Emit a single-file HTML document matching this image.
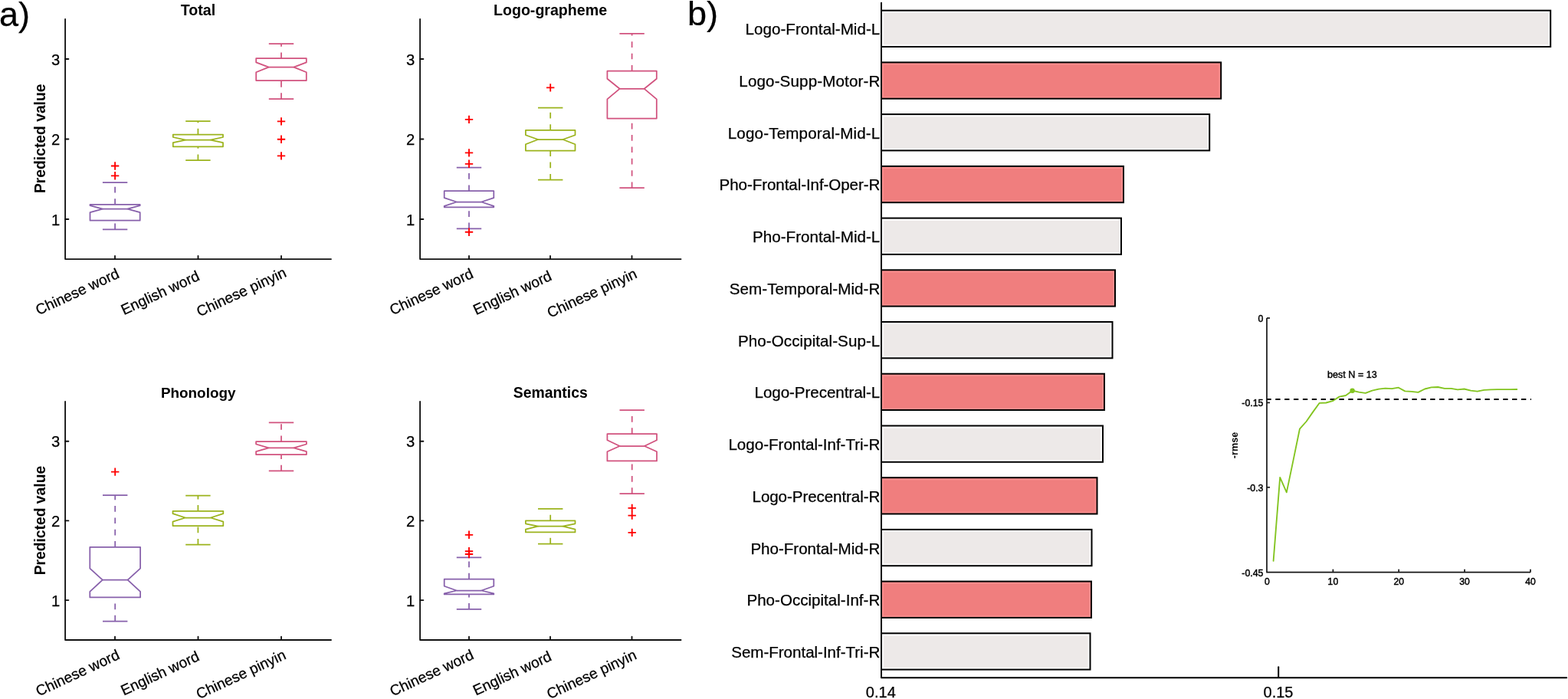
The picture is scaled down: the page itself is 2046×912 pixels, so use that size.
<!DOCTYPE html>
<html lang="en">
<head>
<meta charset="utf-8">
<title>Figure</title>
<style>
html,body{margin:0;padding:0;background:#fff;}
body{width:2046px;height:912px;overflow:hidden;}
svg{display:block;font-family:"Liberation Sans",sans-serif;fill:#000;}
svg text{fill:#000;}
</style>
</head>
<body>
<svg width="2046" height="912" viewBox="0 0 2046 912">
<rect x="0" y="0" width="2046" height="912" fill="#fff"/>
<path d="M85.1,24.9 V338.1 H432" fill="none" stroke="#111" stroke-width="1.85" stroke-linecap="round" stroke-linejoin="round"/>
<line x1="85.1" y1="77.0" x2="89.4" y2="77.0" stroke="#111" stroke-width="1.85" stroke-linecap="round"/>
<text transform="translate(78.20,84.60)" text-anchor="end" font-size="20.2" stroke="#000" stroke-width="0.25" fill="#000" style="fill:#000">3</text>
<line x1="85.1" y1="181.5" x2="89.4" y2="181.5" stroke="#111" stroke-width="1.85" stroke-linecap="round"/>
<text transform="translate(78.20,189.10)" text-anchor="end" font-size="20.2" stroke="#000" stroke-width="0.25" fill="#000" style="fill:#000">2</text>
<line x1="85.1" y1="286.0" x2="89.4" y2="286.0" stroke="#111" stroke-width="1.85" stroke-linecap="round"/>
<text transform="translate(78.20,293.60)" text-anchor="end" font-size="20.2" stroke="#000" stroke-width="0.25" fill="#000" style="fill:#000">1</text>
<line x1="150" y1="338.1" x2="150" y2="333.8" stroke="#111" stroke-width="1.85" stroke-linecap="round"/>
<text transform="translate(157.00,361.60) rotate(-25)" text-anchor="end" font-size="19.3" stroke="#000" stroke-width="0.25" fill="#000" style="fill:#000">Chinese word</text>
<line x1="258.5" y1="338.1" x2="258.5" y2="333.8" stroke="#111" stroke-width="1.85" stroke-linecap="round"/>
<text transform="translate(261.70,364.60) rotate(-25)" text-anchor="end" font-size="19.3" stroke="#000" stroke-width="0.25" fill="#000" style="fill:#000">English word</text>
<line x1="367" y1="338.1" x2="367" y2="333.8" stroke="#111" stroke-width="1.85" stroke-linecap="round"/>
<text transform="translate(375.00,360.10) rotate(-25)" text-anchor="end" font-size="19.3" stroke="#000" stroke-width="0.25" fill="#000" style="fill:#000">Chinese pinyin</text>
<text transform="translate(258.50,19.50)" text-anchor="middle" font-size="19.6" font-weight="bold" fill="#000" style="fill:#000">Total</text>
<text transform="translate(58.90,180.80) rotate(-90)" text-anchor="middle" font-size="19.3" font-weight="bold" fill="#000" style="fill:#000">Predicted value</text>
<path d="M117.5,287.7 L117.5,277.2 L133.8,272.7 L117.5,268.2 L117.5,266.9 L182.7,266.9 L182.7,268.2 L166.4,272.7 L182.7,277.2 L182.7,287.7 Z" fill="none" stroke="#8760AB" stroke-width="1.75" stroke-linejoin="round"/>
<line x1="133.8" y1="272.7" x2="166.4" y2="272.7" stroke="#8760AB" stroke-width="1.75"/>
<line x1="150.1" y1="299.3" x2="150.1" y2="287.7" stroke="#8760AB" stroke-width="1.75" stroke-dasharray="7.7 7.66"/>
<line x1="150.1" y1="266.9" x2="150.1" y2="238.1" stroke="#8760AB" stroke-width="1.75" stroke-dasharray="7.7 7.66"/>
<line x1="133.9" y1="299.3" x2="166.3" y2="299.3" stroke="#8760AB" stroke-width="1.75"/>
<line x1="133.9" y1="238.1" x2="166.3" y2="238.1" stroke="#8760AB" stroke-width="1.75"/>
<path d="M144.9,216.5 H155.3 M150.1,211.3 V221.7" stroke="#FF0000" stroke-width="1.85" fill="none"/>
<path d="M144.9,229.3 H155.3 M150.1,224.1 V234.5" stroke="#FF0000" stroke-width="1.85" fill="none"/>
<path d="M225.8,191.3 L225.8,186.1 L242.1,182.6 L225.8,179.0 L225.8,175.5 L291.0,175.5 L291.0,179.0 L274.7,182.6 L291.0,186.1 L291.0,191.3 Z" fill="none" stroke="#9BB31C" stroke-width="1.75" stroke-linejoin="round"/>
<line x1="242.1" y1="182.6" x2="274.7" y2="182.6" stroke="#9BB31C" stroke-width="1.75"/>
<line x1="258.4" y1="209.1" x2="258.4" y2="191.3" stroke="#9BB31C" stroke-width="1.75" stroke-dasharray="7.7 7.66"/>
<line x1="258.4" y1="175.5" x2="258.4" y2="158.0" stroke="#9BB31C" stroke-width="1.75" stroke-dasharray="7.7 7.66"/>
<line x1="242.2" y1="209.1" x2="274.6" y2="209.1" stroke="#9BB31C" stroke-width="1.75"/>
<line x1="242.2" y1="158.0" x2="274.6" y2="158.0" stroke="#9BB31C" stroke-width="1.75"/>
<path d="M334.2,105.1 L334.2,94.3 L350.6,87.6 L334.2,81.4 L334.2,76.1 L399.8,76.1 L399.8,81.4 L383.4,87.6 L399.8,94.3 L399.8,105.1 Z" fill="none" stroke="#D1527E" stroke-width="1.75" stroke-linejoin="round"/>
<line x1="350.6" y1="87.6" x2="383.4" y2="87.6" stroke="#D1527E" stroke-width="1.75"/>
<line x1="367.0" y1="129.0" x2="367.0" y2="105.1" stroke="#D1527E" stroke-width="1.75" stroke-dasharray="7.7 7.66"/>
<line x1="367.0" y1="76.1" x2="367.0" y2="57.0" stroke="#D1527E" stroke-width="1.75" stroke-dasharray="7.7 7.66"/>
<line x1="350.8" y1="129.0" x2="383.2" y2="129.0" stroke="#D1527E" stroke-width="1.75"/>
<line x1="350.8" y1="57.0" x2="383.2" y2="57.0" stroke="#D1527E" stroke-width="1.75"/>
<path d="M361.8,158.4 H372.2 M367.0,153.2 V163.6" stroke="#FF0000" stroke-width="1.85" fill="none"/>
<path d="M361.8,181.7 H372.2 M367.0,176.5 V186.9" stroke="#FF0000" stroke-width="1.85" fill="none"/>
<path d="M361.8,203.4 H372.2 M367.0,198.2 V208.6" stroke="#FF0000" stroke-width="1.85" fill="none"/>
<path d="M548.1,24.9 V338.1 H888.5" fill="none" stroke="#111" stroke-width="1.85" stroke-linecap="round" stroke-linejoin="round"/>
<line x1="548.1" y1="77.0" x2="552.4" y2="77.0" stroke="#111" stroke-width="1.85" stroke-linecap="round"/>
<text transform="translate(541.20,84.60)" text-anchor="end" font-size="20.2" stroke="#000" stroke-width="0.25" fill="#000" style="fill:#000">3</text>
<line x1="548.1" y1="181.5" x2="552.4" y2="181.5" stroke="#111" stroke-width="1.85" stroke-linecap="round"/>
<text transform="translate(541.20,189.10)" text-anchor="end" font-size="20.2" stroke="#000" stroke-width="0.25" fill="#000" style="fill:#000">2</text>
<line x1="548.1" y1="286.0" x2="552.4" y2="286.0" stroke="#111" stroke-width="1.85" stroke-linecap="round"/>
<text transform="translate(541.20,293.60)" text-anchor="end" font-size="20.2" stroke="#000" stroke-width="0.25" fill="#000" style="fill:#000">1</text>
<line x1="612" y1="338.1" x2="612" y2="333.8" stroke="#111" stroke-width="1.85" stroke-linecap="round"/>
<text transform="translate(619.00,361.60) rotate(-25)" text-anchor="end" font-size="19.3" stroke="#000" stroke-width="0.25" fill="#000" style="fill:#000">Chinese word</text>
<line x1="718" y1="338.1" x2="718" y2="333.8" stroke="#111" stroke-width="1.85" stroke-linecap="round"/>
<text transform="translate(721.20,364.60) rotate(-25)" text-anchor="end" font-size="19.3" stroke="#000" stroke-width="0.25" fill="#000" style="fill:#000">English word</text>
<line x1="824.5" y1="338.1" x2="824.5" y2="333.8" stroke="#111" stroke-width="1.85" stroke-linecap="round"/>
<text transform="translate(832.50,361.60) rotate(-25)" text-anchor="end" font-size="19.3" stroke="#000" stroke-width="0.25" fill="#000" style="fill:#000">Chinese pinyin</text>
<text transform="translate(718.00,19.50)" text-anchor="middle" font-size="19.6" font-weight="bold" fill="#000" style="fill:#000">Logo-grapheme</text>
<path d="M579.7,270.3 L579.7,268.9 L595.9,263.5 L579.7,258.2 L579.7,249.1 L644.3,249.1 L644.3,258.2 L628.1,263.5 L644.3,268.9 L644.3,270.3 Z" fill="none" stroke="#8760AB" stroke-width="1.75" stroke-linejoin="round"/>
<line x1="595.9" y1="263.5" x2="628.1" y2="263.5" stroke="#8760AB" stroke-width="1.75"/>
<line x1="612.0" y1="298.3" x2="612.0" y2="270.3" stroke="#8760AB" stroke-width="1.75" stroke-dasharray="7.7 7.66"/>
<line x1="612.0" y1="249.1" x2="612.0" y2="218.7" stroke="#8760AB" stroke-width="1.75" stroke-dasharray="7.7 7.66"/>
<line x1="595.8" y1="298.3" x2="628.2" y2="298.3" stroke="#8760AB" stroke-width="1.75"/>
<line x1="595.8" y1="218.7" x2="628.2" y2="218.7" stroke="#8760AB" stroke-width="1.75"/>
<path d="M606.8,155.9 H617.2 M612.0,150.7 V161.1" stroke="#FF0000" stroke-width="1.85" fill="none"/>
<path d="M606.8,199.4 H617.2 M612.0,194.2 V204.6" stroke="#FF0000" stroke-width="1.85" fill="none"/>
<path d="M606.8,213.8 H617.2 M612.0,208.6 V219.0" stroke="#FF0000" stroke-width="1.85" fill="none"/>
<path d="M606.8,302.7 H617.2 M612.0,297.5 V307.9" stroke="#FF0000" stroke-width="1.85" fill="none"/>
<path d="M685.9,196.5 L685.9,188.3 L702.1,182.0 L685.9,176.2 L685.9,169.9 L750.5,169.9 L750.5,176.2 L734.4,182.0 L750.5,188.3 L750.5,196.5 Z" fill="none" stroke="#9BB31C" stroke-width="1.75" stroke-linejoin="round"/>
<line x1="702.1" y1="182.0" x2="734.4" y2="182.0" stroke="#9BB31C" stroke-width="1.75"/>
<line x1="718.2" y1="234.6" x2="718.2" y2="196.5" stroke="#9BB31C" stroke-width="1.75" stroke-dasharray="7.7 7.66"/>
<line x1="718.2" y1="169.9" x2="718.2" y2="140.5" stroke="#9BB31C" stroke-width="1.75" stroke-dasharray="7.7 7.66"/>
<line x1="702.0" y1="234.6" x2="734.4" y2="234.6" stroke="#9BB31C" stroke-width="1.75"/>
<line x1="702.0" y1="140.5" x2="734.4" y2="140.5" stroke="#9BB31C" stroke-width="1.75"/>
<path d="M713.0,114.4 H723.4 M718.2,109.2 V119.6" stroke="#FF0000" stroke-width="1.85" fill="none"/>
<path d="M792.4,154.5 L792.4,129.4 L808.5,115.8 L792.4,102.8 L792.4,92.7 L856.8,92.7 L856.8,102.8 L840.7,115.8 L856.8,129.4 L856.8,154.5 Z" fill="none" stroke="#D1527E" stroke-width="1.75" stroke-linejoin="round"/>
<line x1="808.5" y1="115.8" x2="840.7" y2="115.8" stroke="#D1527E" stroke-width="1.75"/>
<line x1="824.6" y1="245.2" x2="824.6" y2="154.5" stroke="#D1527E" stroke-width="1.75" stroke-dasharray="7.7 7.66"/>
<line x1="824.6" y1="92.7" x2="824.6" y2="43.9" stroke="#D1527E" stroke-width="1.75" stroke-dasharray="7.7 7.66"/>
<line x1="808.4" y1="245.2" x2="840.8" y2="245.2" stroke="#D1527E" stroke-width="1.75"/>
<line x1="808.4" y1="43.9" x2="840.8" y2="43.9" stroke="#D1527E" stroke-width="1.75"/>
<path d="M85.1,523.8 V835 H432" fill="none" stroke="#111" stroke-width="1.85" stroke-linecap="round" stroke-linejoin="round"/>
<line x1="85.1" y1="575.7" x2="89.4" y2="575.7" stroke="#111" stroke-width="1.85" stroke-linecap="round"/>
<text transform="translate(78.20,583.30)" text-anchor="end" font-size="20.2" stroke="#000" stroke-width="0.25" fill="#000" style="fill:#000">3</text>
<line x1="85.1" y1="679.4" x2="89.4" y2="679.4" stroke="#111" stroke-width="1.85" stroke-linecap="round"/>
<text transform="translate(78.20,687.00)" text-anchor="end" font-size="20.2" stroke="#000" stroke-width="0.25" fill="#000" style="fill:#000">2</text>
<line x1="85.1" y1="783.1" x2="89.4" y2="783.1" stroke="#111" stroke-width="1.85" stroke-linecap="round"/>
<text transform="translate(78.20,790.70)" text-anchor="end" font-size="20.2" stroke="#000" stroke-width="0.25" fill="#000" style="fill:#000">1</text>
<line x1="150" y1="835" x2="150" y2="830.7" stroke="#111" stroke-width="1.85" stroke-linecap="round"/>
<text transform="translate(157.40,859.00) rotate(-25)" text-anchor="end" font-size="19.3" stroke="#000" stroke-width="0.25" fill="#000" style="fill:#000">Chinese word</text>
<line x1="258.5" y1="835" x2="258.5" y2="830.7" stroke="#111" stroke-width="1.85" stroke-linecap="round"/>
<text transform="translate(261.50,861.00) rotate(-25)" text-anchor="end" font-size="19.3" stroke="#000" stroke-width="0.25" fill="#000" style="fill:#000">English word</text>
<line x1="367" y1="835" x2="367" y2="830.7" stroke="#111" stroke-width="1.85" stroke-linecap="round"/>
<text transform="translate(374.40,859.00) rotate(-25)" text-anchor="end" font-size="19.3" stroke="#000" stroke-width="0.25" fill="#000" style="fill:#000">Chinese pinyin</text>
<text transform="translate(258.70,518.80)" text-anchor="middle" font-size="18.9" font-weight="bold" fill="#000" style="fill:#000">Phonology</text>
<text transform="translate(58.90,679.10) rotate(-90)" text-anchor="middle" font-size="19.3" font-weight="bold" fill="#000" style="fill:#000">Predicted value</text>
<path d="M117.3,779.4 L117.3,771.8 L133.8,756.7 L117.3,741.6 L117.3,713.8 L183.1,713.8 L183.1,741.6 L166.6,756.7 L183.1,771.8 L183.1,779.4 Z" fill="none" stroke="#8760AB" stroke-width="1.75" stroke-linejoin="round"/>
<line x1="133.8" y1="756.7" x2="166.6" y2="756.7" stroke="#8760AB" stroke-width="1.75"/>
<line x1="150.2" y1="810.5" x2="150.2" y2="779.4" stroke="#8760AB" stroke-width="1.75" stroke-dasharray="7.7 7.66"/>
<line x1="150.2" y1="713.8" x2="150.2" y2="646.2" stroke="#8760AB" stroke-width="1.75" stroke-dasharray="7.7 7.66"/>
<line x1="134.0" y1="810.5" x2="166.4" y2="810.5" stroke="#8760AB" stroke-width="1.75"/>
<line x1="134.0" y1="646.2" x2="166.4" y2="646.2" stroke="#8760AB" stroke-width="1.75"/>
<path d="M145.0,615.6 H155.4 M150.2,610.4 V620.8" stroke="#FF0000" stroke-width="1.85" fill="none"/>
<path d="M225.5,686.0 L225.5,680.6 L241.9,675.5 L225.5,670.2 L225.5,666.8 L291.3,666.8 L291.3,670.2 L274.8,675.5 L291.3,680.6 L291.3,686.0 Z" fill="none" stroke="#9BB31C" stroke-width="1.75" stroke-linejoin="round"/>
<line x1="241.9" y1="675.5" x2="274.8" y2="675.5" stroke="#9BB31C" stroke-width="1.75"/>
<line x1="258.4" y1="710.6" x2="258.4" y2="686.0" stroke="#9BB31C" stroke-width="1.75" stroke-dasharray="7.7 7.66"/>
<line x1="258.4" y1="666.8" x2="258.4" y2="646.6" stroke="#9BB31C" stroke-width="1.75" stroke-dasharray="7.7 7.66"/>
<line x1="242.2" y1="710.6" x2="274.6" y2="710.6" stroke="#9BB31C" stroke-width="1.75"/>
<line x1="242.2" y1="646.6" x2="274.6" y2="646.6" stroke="#9BB31C" stroke-width="1.75"/>
<path d="M334.1,593.1 L334.1,589.2 L350.6,584.4 L334.1,579.5 L334.1,576.2 L399.9,576.2 L399.9,579.5 L383.4,584.4 L399.9,589.2 L399.9,593.1 Z" fill="none" stroke="#D1527E" stroke-width="1.75" stroke-linejoin="round"/>
<line x1="350.6" y1="584.4" x2="383.4" y2="584.4" stroke="#D1527E" stroke-width="1.75"/>
<line x1="367.0" y1="614.4" x2="367.0" y2="593.1" stroke="#D1527E" stroke-width="1.75" stroke-dasharray="7.7 7.66"/>
<line x1="367.0" y1="576.2" x2="367.0" y2="551.4" stroke="#D1527E" stroke-width="1.75" stroke-dasharray="7.7 7.66"/>
<line x1="350.8" y1="614.4" x2="383.2" y2="614.4" stroke="#D1527E" stroke-width="1.75"/>
<line x1="350.8" y1="551.4" x2="383.2" y2="551.4" stroke="#D1527E" stroke-width="1.75"/>
<path d="M548.1,523.8 V835 H888.5" fill="none" stroke="#111" stroke-width="1.85" stroke-linecap="round" stroke-linejoin="round"/>
<line x1="548.1" y1="575.7" x2="552.4" y2="575.7" stroke="#111" stroke-width="1.85" stroke-linecap="round"/>
<text transform="translate(541.20,583.30)" text-anchor="end" font-size="20.2" stroke="#000" stroke-width="0.25" fill="#000" style="fill:#000">3</text>
<line x1="548.1" y1="679.4" x2="552.4" y2="679.4" stroke="#111" stroke-width="1.85" stroke-linecap="round"/>
<text transform="translate(541.20,687.00)" text-anchor="end" font-size="20.2" stroke="#000" stroke-width="0.25" fill="#000" style="fill:#000">2</text>
<line x1="548.1" y1="783.1" x2="552.4" y2="783.1" stroke="#111" stroke-width="1.85" stroke-linecap="round"/>
<text transform="translate(541.20,790.70)" text-anchor="end" font-size="20.2" stroke="#000" stroke-width="0.25" fill="#000" style="fill:#000">1</text>
<line x1="612" y1="835" x2="612" y2="830.7" stroke="#111" stroke-width="1.85" stroke-linecap="round"/>
<text transform="translate(619.40,859.00) rotate(-25)" text-anchor="end" font-size="19.3" stroke="#000" stroke-width="0.25" fill="#000" style="fill:#000">Chinese word</text>
<line x1="718" y1="835" x2="718" y2="830.7" stroke="#111" stroke-width="1.85" stroke-linecap="round"/>
<text transform="translate(721.00,861.00) rotate(-25)" text-anchor="end" font-size="19.3" stroke="#000" stroke-width="0.25" fill="#000" style="fill:#000">English word</text>
<line x1="824.5" y1="835" x2="824.5" y2="830.7" stroke="#111" stroke-width="1.85" stroke-linecap="round"/>
<text transform="translate(831.90,859.00) rotate(-25)" text-anchor="end" font-size="19.3" stroke="#000" stroke-width="0.25" fill="#000" style="fill:#000">Chinese pinyin</text>
<text transform="translate(718.20,518.80)" text-anchor="middle" font-size="19.4" font-weight="bold" fill="#000" style="fill:#000">Semantics</text>
<path d="M579.7,775.4 L579.7,774.4 L595.9,770.5 L579.7,764.7 L579.7,755.5 L644.3,755.5 L644.3,764.7 L628.1,770.5 L644.3,774.4 L644.3,775.4 Z" fill="none" stroke="#8760AB" stroke-width="1.75" stroke-linejoin="round"/>
<line x1="595.9" y1="770.5" x2="628.1" y2="770.5" stroke="#8760AB" stroke-width="1.75"/>
<line x1="612.0" y1="794.8" x2="612.0" y2="775.4" stroke="#8760AB" stroke-width="1.75" stroke-dasharray="7.7 7.66"/>
<line x1="612.0" y1="755.5" x2="612.0" y2="727.4" stroke="#8760AB" stroke-width="1.75" stroke-dasharray="7.7 7.66"/>
<line x1="595.8" y1="794.8" x2="628.2" y2="794.8" stroke="#8760AB" stroke-width="1.75"/>
<line x1="595.8" y1="727.4" x2="628.2" y2="727.4" stroke="#8760AB" stroke-width="1.75"/>
<path d="M606.8,697.8 H617.2 M612.0,692.6 V703.0" stroke="#FF0000" stroke-width="1.85" fill="none"/>
<path d="M606.8,719.2 H617.2 M612.0,714.0 V724.4" stroke="#FF0000" stroke-width="1.85" fill="none"/>
<path d="M606.8,723.0 H617.2 M612.0,717.8 V728.2" stroke="#FF0000" stroke-width="1.85" fill="none"/>
<path d="M685.9,694.4 L685.9,690.6 L702.1,686.7 L685.9,683.3 L685.9,679.4 L750.5,679.4 L750.5,683.3 L734.4,686.7 L750.5,690.6 L750.5,694.4 Z" fill="none" stroke="#9BB31C" stroke-width="1.75" stroke-linejoin="round"/>
<line x1="702.1" y1="686.7" x2="734.4" y2="686.7" stroke="#9BB31C" stroke-width="1.75"/>
<line x1="718.2" y1="709.5" x2="718.2" y2="694.4" stroke="#9BB31C" stroke-width="1.75" stroke-dasharray="7.7 7.66"/>
<line x1="718.2" y1="679.4" x2="718.2" y2="663.9" stroke="#9BB31C" stroke-width="1.75" stroke-dasharray="7.7 7.66"/>
<line x1="702.0" y1="709.5" x2="734.4" y2="709.5" stroke="#9BB31C" stroke-width="1.75"/>
<line x1="702.0" y1="663.9" x2="734.4" y2="663.9" stroke="#9BB31C" stroke-width="1.75"/>
<path d="M792.4,601.4 L792.4,589.2 L808.6,582.0 L792.4,574.2 L792.4,566.0 L857.0,566.0 L857.0,574.2 L840.9,582.0 L857.0,589.2 L857.0,601.4 Z" fill="none" stroke="#D1527E" stroke-width="1.75" stroke-linejoin="round"/>
<line x1="808.6" y1="582.0" x2="840.9" y2="582.0" stroke="#D1527E" stroke-width="1.75"/>
<line x1="824.7" y1="644.0" x2="824.7" y2="601.4" stroke="#D1527E" stroke-width="1.75" stroke-dasharray="7.7 7.66"/>
<line x1="824.7" y1="566.0" x2="824.7" y2="535.0" stroke="#D1527E" stroke-width="1.75" stroke-dasharray="7.7 7.66"/>
<line x1="808.5" y1="644.0" x2="840.9" y2="644.0" stroke="#D1527E" stroke-width="1.75"/>
<line x1="808.5" y1="535.0" x2="840.9" y2="535.0" stroke="#D1527E" stroke-width="1.75"/>
<path d="M819.5,662.9 H829.9 M824.7,657.7 V668.1" stroke="#FF0000" stroke-width="1.85" fill="none"/>
<path d="M819.5,672.6 H829.9 M824.7,667.4 V677.8" stroke="#FF0000" stroke-width="1.85" fill="none"/>
<path d="M819.5,694.9 H829.9 M824.7,689.7 V700.1" stroke="#FF0000" stroke-width="1.85" fill="none"/>
<text transform="translate(-1.00,34.00)" font-size="45" stroke="#000" stroke-width="0.25" fill="#000" style="fill:#000">a)</text>
<text transform="translate(897.00,32.80) scale(1,0.975)" font-size="45" stroke="#000" stroke-width="0.25" fill="#000" style="fill:#000">b)</text>
<rect x="1150" y="13.7" width="873.2" height="47.3" fill="#FDFDFD" stroke="#000" stroke-width="2"/>
<rect x="1152.7" y="16.9" width="867.7" height="41.4" fill="#EDE9E8"/>
<text transform="translate(1148.30,45.30)" text-anchor="end" font-size="20.6" stroke="#000" stroke-width="0.25" fill="#000" style="fill:#000" textLength="175.9" lengthAdjust="spacing">Logo-Frontal-Mid-L</text>
<rect x="1150" y="81.4" width="443.2" height="47.3" fill="#FB8E8E" stroke="#000" stroke-width="2"/>
<rect x="1152.7" y="84.6" width="437.7" height="41.4" fill="#F07E7E"/>
<text transform="translate(1148.30,113.02)" text-anchor="end" font-size="20.6" stroke="#000" stroke-width="0.25" fill="#000" style="fill:#000" textLength="184.0" lengthAdjust="spacing">Logo-Supp-Motor-R</text>
<rect x="1150" y="149.1" width="428.2" height="47.3" fill="#FDFDFD" stroke="#000" stroke-width="2"/>
<rect x="1152.7" y="152.3" width="422.7" height="41.4" fill="#EDE9E8"/>
<text transform="translate(1148.30,180.74)" text-anchor="end" font-size="20.6" stroke="#000" stroke-width="0.25" fill="#000" style="fill:#000" textLength="198.6" lengthAdjust="spacing">Logo-Temporal-Mid-L</text>
<rect x="1150" y="216.9" width="316.0" height="47.3" fill="#FB8E8E" stroke="#000" stroke-width="2"/>
<rect x="1152.7" y="220.1" width="310.5" height="41.4" fill="#F07E7E"/>
<text transform="translate(1148.30,248.46)" text-anchor="end" font-size="20.6" stroke="#000" stroke-width="0.25" fill="#000" style="fill:#000" textLength="209.7" lengthAdjust="spacing">Pho-Frontal-Inf-Oper-R</text>
<rect x="1150" y="284.6" width="313.0" height="47.3" fill="#FDFDFD" stroke="#000" stroke-width="2"/>
<rect x="1152.7" y="287.8" width="307.5" height="41.4" fill="#EDE9E8"/>
<text transform="translate(1148.30,316.18)" text-anchor="end" font-size="20.6" stroke="#000" stroke-width="0.25" fill="#000" style="fill:#000" textLength="166.3" lengthAdjust="spacing">Pho-Frontal-Mid-L</text>
<rect x="1150" y="352.3" width="305.0" height="47.3" fill="#FB8E8E" stroke="#000" stroke-width="2"/>
<rect x="1152.7" y="355.5" width="299.5" height="41.4" fill="#F07E7E"/>
<text transform="translate(1148.30,383.90)" text-anchor="end" font-size="20.6" stroke="#000" stroke-width="0.25" fill="#000" style="fill:#000" textLength="196.6" lengthAdjust="spacing">Sem-Temporal-Mid-R</text>
<rect x="1150" y="420.0" width="301.5" height="47.3" fill="#FDFDFD" stroke="#000" stroke-width="2"/>
<rect x="1152.7" y="423.2" width="296.0" height="41.4" fill="#EDE9E8"/>
<text transform="translate(1148.30,451.62)" text-anchor="end" font-size="20.6" stroke="#000" stroke-width="0.25" fill="#000" style="fill:#000" textLength="185.3" lengthAdjust="spacing">Pho-Occipital-Sup-L</text>
<rect x="1150" y="487.7" width="291.0" height="47.3" fill="#FB8E8E" stroke="#000" stroke-width="2"/>
<rect x="1152.7" y="490.9" width="285.5" height="41.4" fill="#F07E7E"/>
<text transform="translate(1148.30,519.34)" text-anchor="end" font-size="20.6" stroke="#000" stroke-width="0.25" fill="#000" style="fill:#000" textLength="163.8" lengthAdjust="spacing">Logo-Precentral-L</text>
<rect x="1150" y="555.5" width="289.0" height="47.3" fill="#FDFDFD" stroke="#000" stroke-width="2"/>
<rect x="1152.7" y="558.7" width="283.5" height="41.4" fill="#EDE9E8"/>
<text transform="translate(1148.30,587.06)" text-anchor="end" font-size="20.6" stroke="#000" stroke-width="0.25" fill="#000" style="fill:#000" textLength="197.9" lengthAdjust="spacing">Logo-Frontal-Inf-Tri-R</text>
<rect x="1150" y="623.2" width="281.5" height="47.3" fill="#FB8E8E" stroke="#000" stroke-width="2"/>
<rect x="1152.7" y="626.4" width="276.0" height="41.4" fill="#F07E7E"/>
<text transform="translate(1148.30,654.78)" text-anchor="end" font-size="20.6" stroke="#000" stroke-width="0.25" fill="#000" style="fill:#000" textLength="166.8" lengthAdjust="spacing">Logo-Precentral-R</text>
<rect x="1150" y="690.9" width="274.5" height="47.3" fill="#FDFDFD" stroke="#000" stroke-width="2"/>
<rect x="1152.7" y="694.1" width="269.0" height="41.4" fill="#EDE9E8"/>
<text transform="translate(1148.30,722.50)" text-anchor="end" font-size="20.6" stroke="#000" stroke-width="0.25" fill="#000" style="fill:#000" textLength="168.9" lengthAdjust="spacing">Pho-Frontal-Mid-R</text>
<rect x="1150" y="758.6" width="274.0" height="47.3" fill="#FB8E8E" stroke="#000" stroke-width="2"/>
<rect x="1152.7" y="761.8" width="268.5" height="41.4" fill="#F07E7E"/>
<text transform="translate(1148.30,790.22)" text-anchor="end" font-size="20.6" stroke="#000" stroke-width="0.25" fill="#000" style="fill:#000" textLength="173.9" lengthAdjust="spacing">Pho-Occipital-Inf-R</text>
<rect x="1150" y="826.3" width="272.5" height="47.3" fill="#FDFDFD" stroke="#000" stroke-width="2"/>
<rect x="1152.7" y="829.5" width="267.0" height="41.4" fill="#EDE9E8"/>
<text transform="translate(1148.30,857.94)" text-anchor="end" font-size="20.6" stroke="#000" stroke-width="0.25" fill="#000" style="fill:#000" textLength="194.1" lengthAdjust="spacing">Sem-Frontal-Inf-Tri-R</text>
<path d="M1150,3.8 V884.2 H2044.2" fill="none" stroke="#000" stroke-width="2" stroke-linecap="round" stroke-linejoin="round"/>
<line x1="1668.2" y1="884" x2="1668.2" y2="870.3" stroke="#000" stroke-width="2" stroke-linecap="round"/>
<text transform="translate(1149.30,910.30)" text-anchor="middle" font-size="20" stroke="#000" stroke-width="0.25" fill="#000" style="fill:#000">0.14</text>
<text transform="translate(1668.00,910.30)" text-anchor="middle" font-size="20" stroke="#000" stroke-width="0.25" fill="#000" style="fill:#000">0.15</text>
<path d="M1653.0,415 V746.7 H1997" fill="none" stroke="#161616" stroke-width="1.7" stroke-linejoin="round"/>
<line x1="1653.0" y1="415" x2="1657.0" y2="415" stroke="#161616" stroke-width="1.7"/>
<text transform="translate(1648.50,419.80)" text-anchor="end" font-size="12.4" stroke="#000" stroke-width="0.45" fill="#000" style="fill:#000">0</text>
<line x1="1653.0" y1="525.4" x2="1657.0" y2="525.4" stroke="#161616" stroke-width="1.7"/>
<text transform="translate(1648.50,530.20)" text-anchor="end" font-size="12.4" stroke="#000" stroke-width="0.45" fill="#000" style="fill:#000">-0.15</text>
<line x1="1653.0" y1="635.8" x2="1657.0" y2="635.8" stroke="#161616" stroke-width="1.7"/>
<text transform="translate(1648.50,640.60)" text-anchor="end" font-size="12.4" stroke="#000" stroke-width="0.45" fill="#000" style="fill:#000">-0.3</text>
<text transform="translate(1648.50,751.50)" text-anchor="end" font-size="12.4" stroke="#000" stroke-width="0.45" fill="#000" style="fill:#000">-0.45</text>
<text transform="translate(1653.50,762.90)" text-anchor="middle" font-size="12.2" stroke="#000" stroke-width="0.45" fill="#000" style="fill:#000">0</text>
<line x1="1739.4" y1="746.7" x2="1739.4" y2="742.7" stroke="#161616" stroke-width="1.7"/>
<text transform="translate(1739.40,762.90)" text-anchor="middle" font-size="12.2" stroke="#000" stroke-width="0.45" fill="#000" style="fill:#000">10</text>
<line x1="1825.2" y1="746.7" x2="1825.2" y2="742.7" stroke="#161616" stroke-width="1.7"/>
<text transform="translate(1825.20,762.90)" text-anchor="middle" font-size="12.2" stroke="#000" stroke-width="0.45" fill="#000" style="fill:#000">20</text>
<line x1="1911.1" y1="746.7" x2="1911.1" y2="742.7" stroke="#161616" stroke-width="1.7"/>
<text transform="translate(1911.10,762.90)" text-anchor="middle" font-size="12.2" stroke="#000" stroke-width="0.45" fill="#000" style="fill:#000">30</text>
<line x1="1997" y1="746.7" x2="1997" y2="742.7" stroke="#161616" stroke-width="1.7"/>
<text transform="translate(1997.00,762.90)" text-anchor="middle" font-size="12.2" stroke="#000" stroke-width="0.45" fill="#000" style="fill:#000">40</text>
<line x1="1653.0" y1="521" x2="1998" y2="521" stroke="#000" stroke-width="2" stroke-dasharray="6.3 5.58" stroke-dashoffset="0.6"/>
<polyline points="1661.6,731.9 1670.2,622.9 1678.8,642.4 1687.3,601.6 1695.9,559.7 1704.5,550.0 1713.1,537.6 1721.7,525.8 1730.3,525.5 1738.9,523.2 1747.5,517.6 1756.0,516.0 1764.6,509.7 1773.2,511.6 1781.8,512.9 1790.4,509.7 1799.0,507.6 1807.6,506.6 1816.2,507.2 1824.8,505.7 1833.3,510.4 1841.9,510.9 1850.5,511.8 1859.1,507.5 1867.7,505.4 1876.3,505.0 1884.9,506.9 1893.5,506.8 1902.0,508.4 1910.6,507.5 1919.2,509.7 1927.8,510.7 1936.4,508.8 1945.0,508.3 1953.6,508.1 1962.2,508.1 1970.7,508.1 1979.3,508.0" fill="none" stroke="#82C41F" stroke-width="1.85" stroke-linejoin="round" stroke-linecap="round"/>
<circle cx="1764.6" cy="509.7" r="3.2" fill="#82C41F"/>
<text transform="translate(1732.00,493.00)" font-size="12.6" stroke="#000" stroke-width="0.4" fill="#000" style="fill:#000">best N = 13</text>
<text transform="translate(1614.50,581.00) rotate(-90)" text-anchor="middle" font-size="12.7" font-weight="bold" fill="#000" style="fill:#000">-rmse</text>
</svg>
</body>
</html>
